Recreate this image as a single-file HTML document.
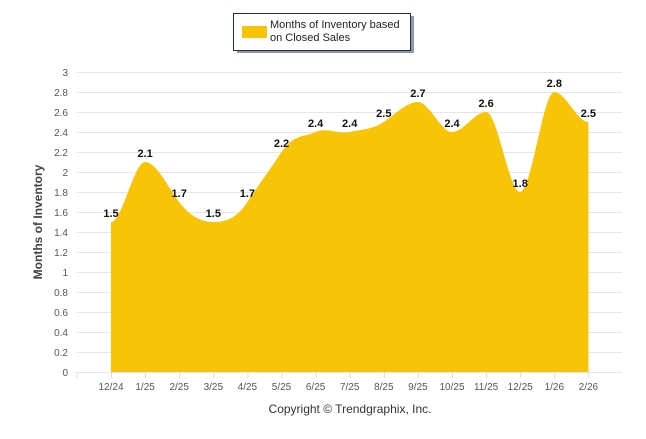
<!DOCTYPE html>
<html><head><meta charset="utf-8"><style>
body{margin:0;background:#fff;width:646px;height:434px;overflow:hidden;font-family:"Liberation Sans",sans-serif}
</style></head><body>
<svg id="chart" width="646" height="434" font-family="Liberation Sans, sans-serif">
<g>
<rect x="235" y="14" width="177" height="37" fill="#1f2d4a" opacity="0.5" transform="translate(2,2)"/>
<rect x="233.5" y="13.5" width="177" height="37" fill="#fff" stroke="#1f2d4a" stroke-width="1"/>
<rect x="242" y="26" width="25" height="12" fill="#f7c408"/>
<text x="270" y="28" font-size="11" fill="#222">Months of Inventory based</text>
<text x="270" y="41" font-size="11" fill="#222">on Closed Sales</text>
</g>
<g id="grid"></g>
<g id="area"></g>
<g id="labels"></g>
<text transform="translate(42,222) rotate(-90)" text-anchor="middle" font-size="12" font-weight="bold" fill="#444">Months of Inventory</text>
<text x="350" y="413" text-anchor="middle" font-size="12" fill="#333">Copyright © Trendgraphix, Inc.</text>
</svg>
<script>
const categories=["12/24","1/25","2/25","3/25","4/25","5/25","6/25","7/25","8/25","9/25","10/25","11/25","12/25","1/26","2/26"];
const values=[1.5,2.1,1.7,1.5,1.7,2.2,2.4,2.4,2.5,2.7,2.4,2.6,1.8,2.8,2.5];
const yTicks=[0,0.2,0.4,0.6,0.8,1,1.2,1.4,1.6,1.8,2,2.2,2.4,2.6,2.8,3];
const NS="http://www.w3.org/2000/svg";
const x0=111,dx=34.1,left=77,right=622;
const X=i=>x0+dx*i;
const Y=v=>372-v*100;
function mk(t,a,p){const e=document.createElementNS(NS,t);for(const k in a)e.setAttribute(k,a[k]);p.appendChild(e);return e;}
const grid=document.getElementById('grid');
yTicks.forEach(v=>{
 const l=mk('line',{x1:left,x2:right,y1:Y(v)+0.5,y2:Y(v)+0.5,stroke:'#e6e6e6'},grid);
 
 
 const t=mk('text',{x:68,y:Y(v)+4,'text-anchor':'end','font-size':10,fill:'#555'},grid);
 t.textContent=String(v);
 
 
});
mk('line',{x1:left,x2:left,y1:372,y2:378,stroke:'#ddd'},grid);
categories.forEach((c,i)=>{
 mk('line',{x1:X(i)+0.5,x2:X(i)+0.5,y1:372,y2:378,stroke:'#ddd'},grid);
 const t=mk('text',{x:X(i),y:390,'text-anchor':'middle','font-size':10,fill:'#555'},grid);
 t.textContent=c;
 
 
});
// smooth path
const pts=values.map((v,i)=>[X(i),Y(v)]);
let d=`M${pts[0][0]},${Y(0)} L${pts[0][0]},${pts[0][1]}`;
for(let i=0;i<pts.length-1;i++){
 const p0=pts[i-1]||pts[i],p1=pts[i],p2=pts[i+1],p3=pts[i+2]||p2;
 const s=1/4;
 const c1=[p1[0]+dx/3,p1[1]+(p2[1]-p0[1])*s*(i===0?0:1)];
 const c2=[p2[0]-dx/3,p2[1]-(p3[1]-p1[1])*s*(i+1===pts.length-1?0:1)];
 // flatten at extremes
 if((p1[1]-p0[1])*(p2[1]-p1[1])<0)c1[1]=p1[1];
 if((p2[1]-p1[1])*(p3[1]-p2[1])<0)c2[1]=p2[1];
 d+=` C${c1[0]},${c1[1]} ${c2[0]},${c2[1]} ${p2[0]},${p2[1]}`;
}
d+=` L${pts[pts.length-1][0]},${Y(0)} Z`;
const area=mk('path',{d:d,fill:'#f7c408'},document.getElementById('area'));


const lab=document.getElementById('labels');
values.forEach((v,i)=>{
 const t=mk('text',{x:X(i),y:Y(v)-5,'text-anchor':'middle','font-size':11,'font-weight':'bold',fill:'#111'},lab);
 t.textContent=v.toFixed(1);
 
 
});
</script>
</body></html>
